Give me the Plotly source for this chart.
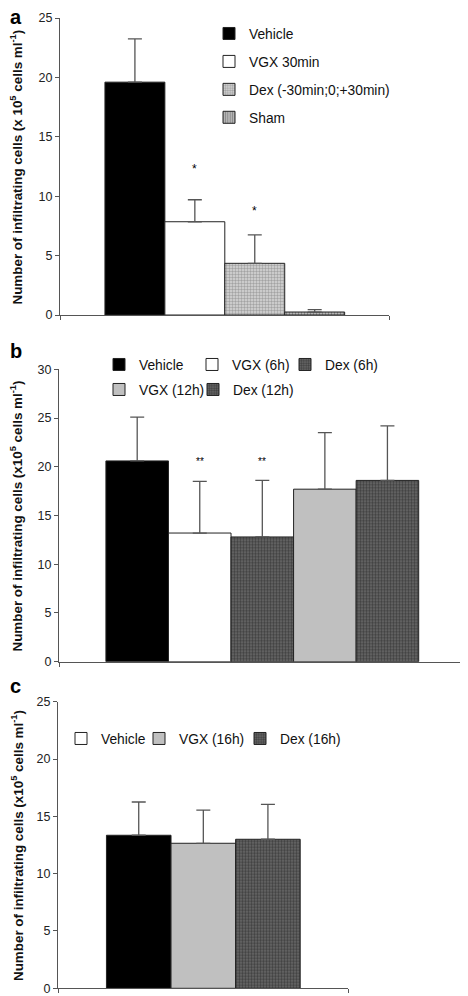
import plotly.graph_objects as go

FONT = "Liberation Sans, Arial, Helvetica, sans-serif"
OFF = 8                      # page body margin offset
W, H = 468 - OFF, 996 - OFF  # visible figure size

# ---------------- data ----------------
# panel a
a_names = ["Vehicle", "VGX 30min", "Dex (-30min;0;+30min)", "Sham"]
a_values = [19.6, 7.85, 4.35, 0.25]
a_errors = [3.65, 1.85, 2.4, 0.2]
a_stars = ["", "*", "*", ""]
a_star_y = [None, 12.3, 8.75, None]

# panel b
b_names = ["Vehicle", "VGX (6h)", "Dex (6h)", "VGX (12h)", "Dex (12h)"]
b_values = [20.6, 13.2, 12.8, 17.7, 18.6]
b_errors = [4.5, 5.3, 5.8, 5.8, 5.6]
b_stars = ["", "**", "**", "", ""]
b_star_y = [None, 20.5, 20.5, None, None]

# panel c
c_names = ["Vehicle", "VGX (16h)", "Dex (16h)"]
c_values = [13.35, 12.65, 13.0]
c_errors = [2.9, 2.9, 3.05]

a_ticks = [0, 5, 10, 15, 20, 25]
b_ticks = [0, 5, 10, 15, 20, 25, 30]
c_ticks = [0, 5, 10, 15, 20, 25]

TITLE_A = "<b>Number of infiltrating cells (x 10<sup>5</sup> cells ml<sup>-1</sup>)</b>"
TITLE_BC = "<b>Number of infiltrating cells (x10<sup>5</sup> cells ml<sup>-1</sup>)</b>"

# ---------------- styles ----------------
BLACK = dict(color="#000000")
WHITE = dict(color="#ffffff")
LIGHTDOT = dict(color="#d0d0d0", pattern=dict(shape=".", fgcolor="#6e6e6e", bgcolor="#d8d8d8", size=3, solidity=0.5))
STRIPE = dict(color="#b0b0b0", pattern=dict(shape="|", fgcolor="#5a5a5a", bgcolor="#b8b8b8", size=3, solidity=0.4))
GREY = dict(color="#c0c0c0")
DARKDOT = dict(color="#505050", pattern=dict(shape=".", fgcolor="#161616", bgcolor="#6a6a6a", size=3, solidity=0.5))

a_styles = [BLACK, WHITE, LIGHTDOT, STRIPE]
b_styles = [BLACK, WHITE, DARKDOT, GREY, DARKDOT]
c_styles = [BLACK, GREY, DARKDOT]
c_legend_styles = [WHITE, GREY, DARKDOT]

ERR = dict(type="data", symmetric=False, color="#555555", thickness=1.3, width=7)
LINE = dict(color="#222222", width=1)
LEGFONT = dict(size=13.8, family=FONT, color="#111")


def py(p):   # page pixel y -> figure fraction
    return 1 - (p - OFF) / H


def px(p):   # page pixel x -> figure fraction
    return (p - OFF) / W


# legend item placement (page px: left of entry, top of entry)
b_leg_pos = [(99, 349), (192, 349), (285, 349), (99, 374), (193, 374)]
c_leg_pos = [(61, 723), (139, 723), (240, 723)]

fig = go.Figure()

for i, (n, v, e, s) in enumerate(zip(a_names, a_values, a_errors, a_styles)):
    fig.add_trace(go.Bar(
        x=[i], y=[v], width=1, name=n, marker=dict(**s, line=LINE),
        error_y=dict(ERR, array=[e], arrayminus=[0]),
        xaxis="x", yaxis="y", legend="legend", legendgroup="a%d" % i,
    ))

for i, (n, v, e, s) in enumerate(zip(b_names, b_values, b_errors, b_styles)):
    fig.add_trace(go.Bar(
        x=[i], y=[v], width=1, name=n, marker=dict(**s, line=LINE),
        error_y=dict(ERR, array=[e], arrayminus=[0]),
        xaxis="x2", yaxis="y2", legend="legend%d" % (2 + i),
    ))

for i, (n, v, e, s) in enumerate(zip(c_names, c_values, c_errors, c_styles)):
    fig.add_trace(go.Bar(
        x=[i], y=[v], width=1, name=n, marker=dict(**s, line=LINE),
        error_y=dict(ERR, array=[e], arrayminus=[0]),
        xaxis="x3", yaxis="y3", showlegend=False,
    ))
for i, (n, s) in enumerate(zip(c_names, c_legend_styles)):
    fig.add_trace(go.Bar(
        x=[None], y=[None], name=n, marker=dict(**s, line=LINE),
        xaxis="x3", yaxis="y3", legend="legend%d" % (7 + i),
    ))

ann = []
for i, (st, sy) in enumerate(zip(a_stars, a_star_y)):
    if st:
        ann.append(dict(x=i, y=sy, xref="x", yref="y", text=st, showarrow=False,
                        font=dict(size=12, color="#000", family=FONT)))
for i, (st, sy) in enumerate(zip(b_stars, b_star_y)):
    if st:
        ann.append(dict(x=i, y=sy, xref="x2", yref="y2", text=st, showarrow=False,
                        font=dict(size=10, color="#000", family=FONT)))

for letter, ytop in [("a", 4), ("b", 338), ("c", 673)]:
    ann.append(dict(x=px(OFF), y=py(ytop), xref="paper", yref="paper", text="<b>%s</b>" % letter,
                    xanchor="left", yanchor="top", showarrow=False,
                    font=dict(size=20, color="#000", family=FONT)))

# y-axis titles (rotated)
for title, (y0, y1) in [(TITLE_A, (18, 315)), (TITLE_BC, (369.3, 661.7)), (TITLE_BC, (701.7, 988.3))]:
    ann.append(dict(x=px(17), y=py((y0 + y1) / 2 + 1), xref="paper", yref="paper", text=title,
                    textangle=-90, xanchor="center", yanchor="middle", showarrow=False,
                    font=dict(size=13.4, color="#111", family=FONT)))

fig.update_layout(annotations=ann)


def yax(domain, rng, ticks):
    return dict(domain=domain, range=rng, tickvals=ticks, ticks="outside", ticklen=4,
                tickcolor="#555", showline=True, linecolor="#555", linewidth=1,
                showgrid=False, zeroline=False, automargin=False,
                tickfont=dict(size=12.5, color="#222", family=FONT))


def xax(domain, n, anchor):
    lo, hi = -1.25, n - 0.5 + 0.74
    return dict(domain=domain, range=[lo, hi], tickvals=[lo, hi], ticks="outside", ticklen=4,
                tickcolor="#555", showticklabels=False, showline=True, linecolor="#555",
                linewidth=1, showgrid=False, zeroline=False, anchor=anchor, automargin=False)


def leg(x, y, orient="h", **kw):
    return dict(x=px(x), y=py(y), xref="container", yref="container", xanchor="left",
                yanchor="top", orientation=orient, font=LEGFONT, bgcolor="rgba(0,0,0,0)", **kw)


legends = {"legend": leg(209, 18, "v", tracegroupgap=7)}
for i, (lx, ly) in enumerate(b_leg_pos):
    legends["legend%d" % (2 + i)] = leg(lx, ly)
for i, (lx, ly) in enumerate(c_leg_pos):
    legends["legend%d" % (7 + i)] = leg(lx, ly)

fig.update_layout(
    width=W, height=H,
    margin=dict(l=0, r=0, t=0, b=0, autoexpand=False),
    paper_bgcolor="white", plot_bgcolor="white",
    barmode="overlay",
    font=dict(family=FONT, color="#111"),
    xaxis=xax([px(60), px(389)], len(a_names), "y"),
    yaxis=yax([py(315), py(18)], [0, 25], a_ticks),
    xaxis2=xax([px(59), px(465)], len(b_names), "y2"),
    yaxis2=yax([py(661.7), py(369.3)], [0, 30], b_ticks),
    xaxis3=xax([px(58), px(348)], len(c_names), "y3"),
    yaxis3=yax([py(988.3), py(701.7)], [0, 25], c_ticks),
    yaxis_anchor="x", yaxis2_anchor="x2", yaxis3_anchor="x3",
    **legends,
)

fig.write_html("out.html")
